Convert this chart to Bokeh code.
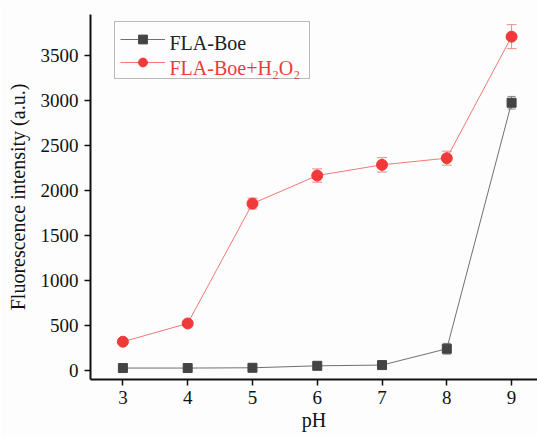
from bokeh.plotting import figure
from bokeh.models import ColumnDataSource, Whisker, Legend, LegendItem, Range1d, FixedTicker, Label
from bokeh.embed import file_html
from bokeh.resources import INLINE

ph = [3, 4, 5, 6, 7, 8, 9]
boe = [27, 27, 30, 52, 60, 241, 2971]
boe_err = [10, 10, 10, 15, 15, 60, 70]
h2o2 = [319, 522, 1852, 2163, 2282, 2356, 3704]
h2o2_err = [20, 25, 60, 74, 80, 78, 133]
y_ticks = [0, 500, 1000, 1500, 2000, 2500, 3000, 3500]
names = ["FLA-Boe", "FLA-Boe+H₂O₂"]

FONT = "Liberation Serif"

p = figure(width=537, height=435, output_backend="svg", toolbar_location=None,
           x_range=Range1d(2.5, 9.4), y_range=Range1d(-100, 3950),
           min_border_left=90, min_border_top=14, min_border_bottom=56, min_border_right=0)
p.background_fill_color = "#fdfdfd"
p.border_fill_color = "#fdfdfd"
p.outline_line_color = None
p.xgrid.visible = False
p.ygrid.visible = False

for ax in (p.xaxis, p.yaxis):
    ax.axis_line_width = 2
    ax.axis_line_color = "#111111"
    ax.major_tick_line_width = 1.5
    ax.major_tick_line_color = "#111111"
    ax.major_tick_out = 6
    ax.major_tick_in = 0
    ax.minor_tick_out = 0
    ax.minor_tick_in = 0
    ax.major_label_text_font = FONT
    ax.major_label_text_font_size = "19px"
    ax.major_label_text_color = "#111111"
    ax.axis_label_text_font = FONT
    ax.axis_label_text_font_size = "20px"
    ax.axis_label_text_font_style = "normal"
    ax.axis_label_text_color = "#111111"

p.xaxis.ticker = FixedTicker(ticks=ph)
p.yaxis.ticker = FixedTicker(ticks=y_ticks)
p.xaxis.axis_label = "pH"
p.yaxis.axis_label = "Fluorescence intensity (a.u.)"
p.xaxis.major_label_standoff = 5
p.yaxis.major_label_standoff = 6
p.xaxis.axis_label_standoff = 2
p.yaxis.axis_label_standoff = 9

src1 = ColumnDataSource(dict(x=ph, y=boe, lo=[v - e for v, e in zip(boe, boe_err)],
                             hi=[v + e for v, e in zip(boe, boe_err)]))
src2 = ColumnDataSource(dict(x=ph, y=h2o2, lo=[v - e for v, e in zip(h2o2, h2o2_err)],
                             hi=[v + e for v, e in zip(h2o2, h2o2_err)]))

w1 = Whisker(source=src1, base="x", lower="lo", upper="hi", line_color="#888888", line_width=1)
w1.upper_head.size = 8
w1.lower_head.size = 8
w1.upper_head.line_color = "#888888"
w1.lower_head.line_color = "#888888"
w2 = Whisker(source=src2, base="x", lower="lo", upper="hi", line_color="#f08a8a", line_width=1)
w2.upper_head.size = 10
w2.lower_head.size = 10
w2.upper_head.line_color = "#f08a8a"
w2.lower_head.line_color = "#f08a8a"
p.add_layout(w1)
p.add_layout(w2)

l1 = p.line("x", "y", source=src1, line_color="#707070", line_width=1)
m1 = p.scatter("x", "y", source=src1, marker="square", size=9, fill_color="#444444", line_color="#444444")
l2 = p.line("x", "y", source=src2, line_color="#f07878", line_width=1)
m2 = p.scatter("x", "y", source=src2, marker="circle", size=11, fill_color="#f03a3a", line_color="#f03a3a")

legend = Legend(items=[LegendItem(label=names[0], renderers=[l1, m1]),
                       LegendItem(label=names[1], renderers=[l2, m2])],
                location=(24, 300))
legend.border_line_color = "#777777"
legend.border_line_width = 1
legend.background_fill_alpha = 0
legend.label_text_font = FONT
legend.label_text_font_size = "20px"
legend.label_text_alpha = 0
legend.glyph_width = 45
legend.glyph_height = 22
legend.label_height = 22
legend.spacing = 0
legend.padding = 5
legend.margin = 0
legend.label_standoff = 8
p.add_layout(legend)

for name, yy, col in [(names[0], 337, "#222222"), (names[1], 312, "#f03a3a")]:
    p.add_layout(Label(x=79, y=yy, x_units="screen", y_units="screen", text=name,
                       text_font=FONT, text_font_size="20px", text_color=col,
                       text_baseline="alphabetic", level="overlay"))

open("out.html", "w").write(file_html(p, INLINE))
